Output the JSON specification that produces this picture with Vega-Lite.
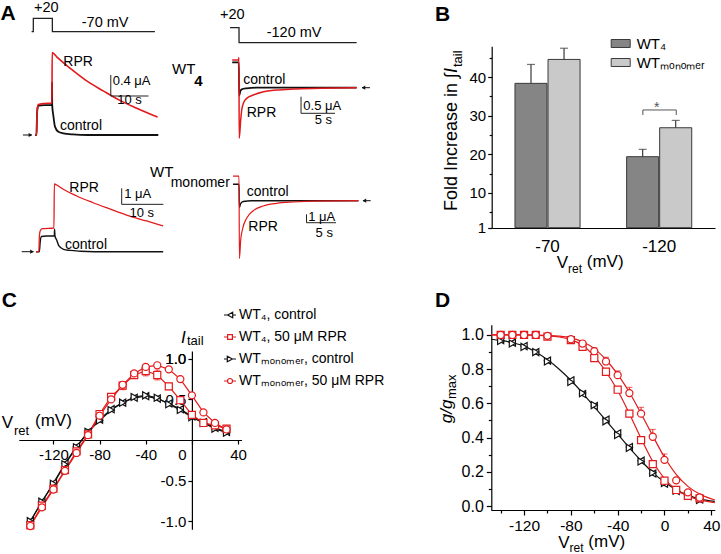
{
"$schema":"https://vega.github.io/schema/vega-lite/v6.json",
"width":721,"height":554,"autosize":{"type":"none"},"padding":0,"background":"white",
"config":{"font":"Liberation Sans","view":{"stroke":null},
"axis":{"domainColor":"#000","tickColor":"#000","labelColor":"#000","domainWidth":1.2,"tickWidth":1.2,"labelFont":"Liberation Sans","grid":false,"labelOverlap":false,"labelBound":false,"labelFlush":false},
"text":{"font":"Liberation Sans","color":"#000"},
"legend":{"labelFont":"Liberation Sans","labelColor":"#000"}},
"datasets":{
"a":[
{"p":"A1","s":"control","t":0,"i":0},{"p":"A1","s":"control","t":0.4,"i":0},{"p":"A1","s":"control","t":0.5,"i":0.3},{"p":"A1","s":"control","t":0.65,"i":0.5},{"p":"A1","s":"control","t":0.9,"i":0.56},{"p":"A1","s":"control","t":2.5,"i":0.57},{"p":"A1","s":"control","t":4.5,"i":0.57},{"p":"A1","s":"control","t":4.52,"i":1.0},{"p":"A1","s":"control","t":4.56,"i":0.57},{"p":"A1","s":"control","t":4.9,"i":0.35},{"p":"A1","s":"control","t":5.3,"i":0.16},{"p":"A1","s":"control","t":6.2,"i":0.06},{"p":"A1","s":"control","t":7.5,"i":0.03},{"p":"A1","s":"control","t":10,"i":0.01},{"p":"A1","s":"control","t":14,"i":0},{"p":"A1","s":"control","t":32.7,"i":0},
{"p":"A1","s":"RPR","t":0,"i":0},{"p":"A1","s":"RPR","t":0.4,"i":0},{"p":"A1","s":"RPR","t":0.5,"i":0.3},{"p":"A1","s":"RPR","t":0.65,"i":0.52},{"p":"A1","s":"RPR","t":0.9,"i":0.58},{"p":"A1","s":"RPR","t":2.5,"i":0.6},{"p":"A1","s":"RPR","t":4.5,"i":0.61},{"p":"A1","s":"RPR","t":4.55,"i":1.57},{"p":"A1","s":"RPR","t":5.75,"i":1.49},{"p":"A1","s":"RPR","t":7.5,"i":1.38},{"p":"A1","s":"RPR","t":10.2,"i":1.22},{"p":"A1","s":"RPR","t":13.7,"i":1.03},{"p":"A1","s":"RPR","t":18.1,"i":0.84},{"p":"A1","s":"RPR","t":22.5,"i":0.66},{"p":"A1","s":"RPR","t":27,"i":0.51},{"p":"A1","s":"RPR","t":32.5,"i":0.34},
{"p":"A2","s":"control","t":-1,"i":0.76},{"p":"A2","s":"control","t":-0.03,"i":0.76},{"p":"A2","s":"control","t":0.02,"i":-0.24},{"p":"A2","s":"control","t":0.2,"i":-0.1},{"p":"A2","s":"control","t":0.4,"i":-0.05},{"p":"A2","s":"control","t":1.1,"i":-0.02},{"p":"A2","s":"control","t":2.5,"i":0},{"p":"A2","s":"control","t":17.3,"i":0},
{"p":"A2","s":"RPR","t":-1,"i":0.83},{"p":"A2","s":"RPR","t":-0.05,"i":0.83},{"p":"A2","s":"RPR","t":-0.01,"i":0.91},{"p":"A2","s":"RPR","t":0.03,"i":-1.52},{"p":"A2","s":"RPR","t":0.25,"i":-0.97},{"p":"A2","s":"RPR","t":0.4,"i":-0.67},{"p":"A2","s":"RPR","t":0.64,"i":-0.47},{"p":"A2","s":"RPR","t":1.13,"i":-0.32},{"p":"A2","s":"RPR","t":2.1,"i":-0.22},{"p":"A2","s":"RPR","t":3.6,"i":-0.12},{"p":"A2","s":"RPR","t":5.5,"i":-0.07},{"p":"A2","s":"RPR","t":8,"i":-0.04},{"p":"A2","s":"RPR","t":11.9,"i":-0.02},{"p":"A2","s":"RPR","t":17.3,"i":0},
{"p":"A3","s":"control","t":0,"i":0},{"p":"A3","s":"control","t":0.8,"i":0},{"p":"A3","s":"control","t":1.0,"i":0.6},{"p":"A3","s":"control","t":1.3,"i":0.95},{"p":"A3","s":"control","t":2.5,"i":0.98},{"p":"A3","s":"control","t":4.4,"i":0.98},{"p":"A3","s":"control","t":4.45,"i":1.4},{"p":"A3","s":"control","t":4.55,"i":0.98},{"p":"A3","s":"control","t":4.96,"i":0.73},{"p":"A3","s":"control","t":5.5,"i":0.36},{"p":"A3","s":"control","t":6.6,"i":0.15},{"p":"A3","s":"control","t":8.2,"i":0.08},{"p":"A3","s":"control","t":10.6,"i":0.03},{"p":"A3","s":"control","t":14,"i":0},{"p":"A3","s":"control","t":30.5,"i":0},
{"p":"A3","s":"RPR","t":0,"i":0},{"p":"A3","s":"RPR","t":0.7,"i":0},{"p":"A3","s":"RPR","t":0.8,"i":0.9},{"p":"A3","s":"RPR","t":1.0,"i":1.3},{"p":"A3","s":"RPR","t":1.5,"i":1.44},{"p":"A3","s":"RPR","t":4.3,"i":1.48},{"p":"A3","s":"RPR","t":4.4,"i":4.23},{"p":"A3","s":"RPR","t":4.96,"i":4.17},{"p":"A3","s":"RPR","t":6.55,"i":3.9},{"p":"A3","s":"RPR","t":9.76,"i":3.48},{"p":"A3","s":"RPR","t":13.7,"i":3.06},{"p":"A3","s":"RPR","t":17.7,"i":2.67},{"p":"A3","s":"RPR","t":21.7,"i":2.29},{"p":"A3","s":"RPR","t":26.5,"i":1.92},{"p":"A3","s":"RPR","t":30.5,"i":1.61},
{"p":"A4","s":"control","t":-1.07,"i":1.93},{"p":"A4","s":"control","t":-0.05,"i":1.93},{"p":"A4","s":"control","t":0.02,"i":-0.8},{"p":"A4","s":"control","t":0.2,"i":-0.4},{"p":"A4","s":"control","t":0.5,"i":-0.15},{"p":"A4","s":"control","t":1,"i":-0.06},{"p":"A4","s":"control","t":2,"i":-0.01},{"p":"A4","s":"control","t":3.5,"i":0},{"p":"A4","s":"control","t":20.2,"i":0},
{"p":"A4","s":"RPR","t":-1.07,"i":2.9},{"p":"A4","s":"RPR","t":-0.05,"i":2.9},{"p":"A4","s":"RPR","t":0.02,"i":-6.8},{"p":"A4","s":"RPR","t":0.24,"i":-4.6},{"p":"A4","s":"RPR","t":0.58,"i":-3.25},{"p":"A4","s":"RPR","t":1.24,"i":-2.07},{"p":"A4","s":"RPR","t":2.36,"i":-1.18},{"p":"A4","s":"RPR","t":4.05,"i":-0.62},{"p":"A4","s":"RPR","t":6.3,"i":-0.31},{"p":"A4","s":"RPR","t":9.15,"i":-0.15},{"p":"A4","s":"RPR","t":13.1,"i":-0.04},{"p":"A4","s":"RPR","t":20.2,"i":0},
{"p":"A1","k":"LET","t":-9.15,"i":2.314,"label":"A"},
{"p":"A1","k":"L","t":7.5,"i":1.396,"label":"RPR"},
{"p":"A1","k":"L","t":6.63,"i":0.171,"label":"control"},
{"p":"A1","k":"S","t":20.6,"i":1.029,"label":"0.4 μA"},
{"p":"A1","k":"SC","t":25.07,"i":0.667,"label":"10 s"},
{"p":"A2","k":"W","t":-9.85,"i":0.571,"label":"WT"},
{"p":"A2","k":"WB","t":-6.57,"i":0.201,"label":"4"},
{"p":"A2","k":"L","t":0.63,"i":0.231,"label":"control"},
{"p":"A2","k":"L","t":1.13,"i":-0.769,"label":"RPR"},
{"p":"A2","k":"S","t":9.46,"i":-0.55,"label":"0.5 μA"},
{"p":"A2","k":"SC","t":12.4,"i":-0.97,"label":"5 s"},
{"p":"A3","k":"L","t":7.99,"i":3.96,"label":"RPR"},
{"p":"A3","k":"L","t":6.95,"i":0.42,"label":"control"},
{"p":"A3","k":"S","t":21.17,"i":3.61,"label":"1 μA"},
{"p":"A3","k":"SC","t":25.35,"i":2.44,"label":"10 s"},
{"p":"A4","k":"W","t":-15.14,"i":3.41,"label":"WT"},
{"p":"A4","k":"L","t":-11.63,"i":2.05,"label":"monomer"},
{"p":"A4","k":"L","t":1.25,"i":1.06,"label":"control"},
{"p":"A4","k":"L","t":1.53,"i":-3.06,"label":"RPR"},
{"p":"A4","k":"S","t":11.69,"i":-1.88,"label":"1 μA"},
{"p":"A4","k":"SC","t":14.4,"i":-3.76,"label":"5 s"},
{"p":"A1","k":"bar","t":20.1,"t2":20.1,"i":0.743,"i2":1.143},{"p":"A1","k":"bar","t":20.1,"t2":30.1,"i":0.743,"i2":0.743},
{"p":"A2","k":"bar","t":9.12,"t2":9.12,"i":-0.769,"i2":-0.27},{"p":"A2","k":"bar","t":9.12,"t2":14.12,"i":-0.769,"i2":-0.769},
{"p":"A3","k":"bar","t":20.55,"t2":20.55,"i":2.96,"i2":3.96},{"p":"A3","k":"bar","t":20.55,"t2":30.55,"i":2.96,"i2":2.96},
{"p":"A4","k":"bar","t":11.39,"t2":11.39,"i":-2.59,"i2":-1.6},{"p":"A4","k":"bar","t":11.39,"t2":16.39,"i":-2.59,"i2":-2.59},
{"p":"A1","k":"arrow","t":-3.2,"t2":-0.9,"th":-1.2,"i":0,"d":"r"},
{"p":"A2","k":"arrow","t":19.26,"t2":18.1,"th":18.3,"i":0,"d":"l"},
{"p":"A3","k":"arrow","t":-3.43,"t2":-0.65,"th":-0.95,"i":0,"d":"r"},
{"p":"A4","k":"arrow","t":22.27,"t2":20.97,"th":21.2,"i":0,"d":"l"}
],
"apr":[
{"p":"A1","k":"line","t":-0.9,"v":-70},{"p":"A1","k":"line","t":-0.45,"v":-70},{"p":"A1","k":"line","t":-0.44,"v":20},{"p":"A1","k":"line","t":4.6,"v":20},{"p":"A1","k":"line","t":4.61,"v":-70},{"p":"A1","k":"line","t":31.8,"v":-70},
{"p":"A1","k":"txt","t":-0.27,"v":87.2,"label":"+20"},{"p":"A1","k":"txt","t":12.4,"v":-9.55,"label":"-70 mV"},
{"p":"A2","k":"line","t":-1.32,"v":20},{"p":"A2","k":"line","t":0,"v":20},{"p":"A2","k":"line","t":0.01,"v":-120},{"p":"A2","k":"line","t":17.3,"v":-120},
{"p":"A2","k":"txt","t":-2.79,"v":133.9,"label":"+20"},{"p":"A2","k":"txt","t":4.07,"v":-32.3,"label":"-120 mV"}
],
"b":[
{"V":"-70","g":"WT4","mean":38.4,"hi":43.3},{"V":"-70","g":"WTmonomer","mean":44.6,"hi":47.5},
{"V":"-120","g":"WT4","mean":19.4,"hi":21.3},{"V":"-120","g":"WTmonomer","mean":26.9,"hi":28.8}
],
"bt":[
{"k":"br","bx":1.854,"bx2":2.153,"f":31.5,"f2":31.5},
{"k":"br","bx":1.854,"bx2":1.854,"f":31.5,"f2":30.2},
{"k":"br","bx":2.153,"bx2":2.153,"f":31.5,"f2":30.2},
{"k":"star","bx":1.978,"f":32.0,"label":"*"},
{"k":"LET","bx":-0.008,"f":56.1,"label":"B"},
{"k":"T","bx":1.082,"f":-8.2,"label":"V"},
{"k":"TS","bx":1.183,"f":-9.8,"label":"ret"},
{"k":"T","bx":1.351,"f":-8.0,"label":"(mV)"},
{"k":"R","bx":0.1444,"f":41.09,"label":"Fold Increase in ∫"},
{"k":"RI","bx":0.1444,"f":41.09,"label":"I"},
{"k":"RS","bx":0.1937,"f":42.64,"label":"tail"}
],
"c":[
{"k":"pt","s":"WT4c","v":-140,"i":-1.0},{"k":"pt","s":"WT4c","v":-130,"i":-0.76},{"k":"pt","s":"WT4c","v":-120,"i":-0.53},{"k":"pt","s":"WT4c","v":-110,"i":-0.29},{"k":"pt","s":"WT4c","v":-100,"i":-0.08},{"k":"pt","s":"WT4c","v":-90,"i":0.10},{"k":"pt","s":"WT4c","v":-80,"i":0.25},{"k":"pt","s":"WT4c","v":-70,"i":0.38},{"k":"pt","s":"WT4c","v":-60,"i":0.46},{"k":"pt","s":"WT4c","v":-50,"i":0.52},{"k":"pt","s":"WT4c","v":-40,"i":0.54},{"k":"pt","s":"WT4c","v":-30,"i":0.51},{"k":"pt","s":"WT4c","v":-20,"i":0.45},{"k":"pt","s":"WT4c","v":-10,"i":0.38},{"k":"pt","s":"WT4c","v":0,"i":0.29},{"k":"pt","s":"WT4c","v":10,"i":0.22},{"k":"pt","s":"WT4c","v":20,"i":0.15},{"k":"pt","s":"WT4c","v":30,"i":0.10},
{"k":"pt","s":"WTmc","v":-140,"i":-1.0},{"k":"pt","s":"WTmc","v":-130,"i":-0.76},{"k":"pt","s":"WTmc","v":-120,"i":-0.54},{"k":"pt","s":"WTmc","v":-110,"i":-0.30},{"k":"pt","s":"WTmc","v":-100,"i":-0.09},{"k":"pt","s":"WTmc","v":-90,"i":0.10},{"k":"pt","s":"WTmc","v":-80,"i":0.24},{"k":"pt","s":"WTmc","v":-70,"i":0.37},{"k":"pt","s":"WTmc","v":-60,"i":0.46},{"k":"pt","s":"WTmc","v":-50,"i":0.53},{"k":"pt","s":"WTmc","v":-40,"i":0.55},{"k":"pt","s":"WTmc","v":-30,"i":0.52},{"k":"pt","s":"WTmc","v":-20,"i":0.44},{"k":"pt","s":"WTmc","v":-10,"i":0.37},{"k":"pt","s":"WTmc","v":0,"i":0.28},{"k":"pt","s":"WTmc","v":10,"i":0.21},{"k":"pt","s":"WTmc","v":20,"i":0.14},{"k":"pt","s":"WTmc","v":30,"i":0.09},
{"k":"pt","s":"WT4r","v":-140,"i":-1.05},{"k":"pt","s":"WT4r","v":-130,"i":-0.81},{"k":"pt","s":"WT4r","v":-120,"i":-0.60},{"k":"pt","s":"WT4r","v":-110,"i":-0.37},{"k":"pt","s":"WT4r","v":-100,"i":-0.14},{"k":"pt","s":"WT4r","v":-90,"i":0.07},{"k":"pt","s":"WT4r","v":-80,"i":0.32},{"k":"pt","s":"WT4r","v":-70,"i":0.53},{"k":"pt","s":"WT4r","v":-60,"i":0.67},{"k":"pt","s":"WT4r","v":-50,"i":0.80},{"k":"pt","s":"WT4r","v":-40,"i":0.85},{"k":"pt","s":"WT4r","v":-30,"i":0.80},{"k":"pt","s":"WT4r","v":-20,"i":0.66},{"k":"pt","s":"WT4r","v":-10,"i":0.49},{"k":"pt","s":"WT4r","v":0,"i":0.31},{"k":"pt","s":"WT4r","v":10,"i":0.21},{"k":"pt","s":"WT4r","v":20,"i":0.18},{"k":"pt","s":"WT4r","v":30,"i":0.14},
{"k":"pt","s":"WTmr","v":-140,"i":-1.06},{"k":"pt","s":"WTmr","v":-130,"i":-0.83},{"k":"pt","s":"WTmr","v":-120,"i":-0.61},{"k":"pt","s":"WTmr","v":-110,"i":-0.38},{"k":"pt","s":"WTmr","v":-100,"i":-0.16},{"k":"pt","s":"WTmr","v":-90,"i":0.06},{"k":"pt","s":"WTmr","v":-80,"i":0.30},{"k":"pt","s":"WTmr","v":-70,"i":0.50},{"k":"pt","s":"WTmr","v":-60,"i":0.68},{"k":"pt","s":"WTmr","v":-50,"i":0.82},{"k":"pt","s":"WTmr","v":-40,"i":0.90},{"k":"pt","s":"WTmr","v":-30,"i":0.92},{"k":"pt","s":"WTmr","v":-20,"i":0.87},{"k":"pt","s":"WTmr","v":-10,"i":0.75},{"k":"pt","s":"WTmr","v":0,"i":0.55},{"k":"pt","s":"WTmr","v":10,"i":0.34},{"k":"pt","s":"WTmr","v":20,"i":0.21},{"k":"pt","s":"WTmr","v":30,"i":0.13},
{"k":"err","s":"WT4r","v":-70,"lo":0.49,"hi":0.57},{"k":"err","s":"WT4r","v":-60,"lo":0.62,"hi":0.72},{"k":"err","s":"WT4r","v":-50,"lo":0.76,"hi":0.84},{"k":"err","s":"WT4r","v":-40,"lo":0.79,"hi":0.91},{"k":"err","s":"WT4r","v":-30,"lo":0.74,"hi":0.86},{"k":"err","s":"WT4r","v":-20,"lo":0.62,"hi":0.70},{"k":"err","s":"WT4r","v":-10,"lo":0.46,"hi":0.52},
{"k":"err","s":"WTmr","v":-40,"lo":0.87,"hi":0.93},{"k":"err","s":"WTmr","v":-30,"lo":0.89,"hi":0.95},
{"k":"LET","v":-164.8,"i":1.718,"label":"C"},
{"k":"T","v":-164.8,"i":0.209,"label":"V"},
{"k":"TS","v":-154.2,"i":0.111,"label":"ret"},
{"k":"T","v":-135.96,"i":0.234,"label":"(mV)"},
{"k":"TI","v":-9.45,"i":1.262,"label":"I"},
{"k":"TS","v":-4.25,"i":1.219,"label":"tail"},
{"k":"YL","v":-5.1,"i":1.0,"label":"1.0"}
],
"cleg":[{"s":"WT₄, control"}],
"d":[
{"k":"pt","s":"WT4c","v":-140,"g":0.97},{"k":"pt","s":"WT4c","v":-130,"g":0.955},{"k":"pt","s":"WT4c","v":-120,"g":0.935},{"k":"pt","s":"WT4c","v":-110,"g":0.9},{"k":"pt","s":"WT4c","v":-100,"g":0.85},{"k":"pt","s":"WT4c","v":-80,"g":0.735},{"k":"pt","s":"WT4c","v":-70,"g":0.655},{"k":"pt","s":"WT4c","v":-60,"g":0.585},{"k":"pt","s":"WT4c","v":-50,"g":0.505},{"k":"pt","s":"WT4c","v":-40,"g":0.425},{"k":"pt","s":"WT4c","v":-30,"g":0.345},{"k":"pt","s":"WT4c","v":-20,"g":0.265},{"k":"pt","s":"WT4c","v":-10,"g":0.19},{"k":"pt","s":"WT4c","v":0,"g":0.13},{"k":"pt","s":"WT4c","v":10,"g":0.088},{"k":"pt","s":"WT4c","v":20,"g":0.058},{"k":"pt","s":"WT4c","v":30,"g":0.038},
{"k":"pt","s":"WTmc","v":-140,"g":0.965},{"k":"pt","s":"WTmc","v":-130,"g":0.95},{"k":"pt","s":"WTmc","v":-120,"g":0.93},{"k":"pt","s":"WTmc","v":-110,"g":0.9},{"k":"pt","s":"WTmc","v":-100,"g":0.845},{"k":"pt","s":"WTmc","v":-80,"g":0.725},{"k":"pt","s":"WTmc","v":-70,"g":0.66},{"k":"pt","s":"WTmc","v":-60,"g":0.59},{"k":"pt","s":"WTmc","v":-50,"g":0.495},{"k":"pt","s":"WTmc","v":-40,"g":0.415},{"k":"pt","s":"WTmc","v":-30,"g":0.34},{"k":"pt","s":"WTmc","v":-20,"g":0.26},{"k":"pt","s":"WTmc","v":-10,"g":0.195},{"k":"pt","s":"WTmc","v":0,"g":0.135},{"k":"pt","s":"WTmc","v":10,"g":0.09},{"k":"pt","s":"WTmc","v":20,"g":0.06},{"k":"pt","s":"WTmc","v":30,"g":0.035},
{"k":"pt","s":"WT4r","v":-140,"g":1.0},{"k":"pt","s":"WT4r","v":-130,"g":1.0},{"k":"pt","s":"WT4r","v":-120,"g":1.0},{"k":"pt","s":"WT4r","v":-110,"g":1.0},{"k":"pt","s":"WT4r","v":-100,"g":0.99},{"k":"pt","s":"WT4r","v":-80,"g":0.97},{"k":"pt","s":"WT4r","v":-70,"g":0.93},{"k":"pt","s":"WT4r","v":-60,"g":0.865},{"k":"pt","s":"WT4r","v":-50,"g":0.785},{"k":"pt","s":"WT4r","v":-40,"g":0.68},{"k":"pt","s":"WT4r","v":-30,"g":0.54},{"k":"pt","s":"WT4r","v":-20,"g":0.385},{"k":"pt","s":"WT4r","v":-10,"g":0.245},{"k":"pt","s":"WT4r","v":0,"g":0.148},{"k":"pt","s":"WT4r","v":10,"g":0.094},{"k":"pt","s":"WT4r","v":20,"g":0.06},{"k":"pt","s":"WT4r","v":30,"g":0.045},
{"k":"pt","s":"WTmr","v":-140,"g":1.0},{"k":"pt","s":"WTmr","v":-130,"g":1.0},{"k":"pt","s":"WTmr","v":-120,"g":1.0},{"k":"pt","s":"WTmr","v":-110,"g":1.0},{"k":"pt","s":"WTmr","v":-100,"g":0.995},{"k":"pt","s":"WTmr","v":-80,"g":0.975},{"k":"pt","s":"WTmr","v":-70,"g":0.95},{"k":"pt","s":"WTmr","v":-60,"g":0.905},{"k":"pt","s":"WTmr","v":-50,"g":0.845},{"k":"pt","s":"WTmr","v":-40,"g":0.765},{"k":"pt","s":"WTmr","v":-30,"g":0.66},{"k":"pt","s":"WTmr","v":-20,"g":0.54},{"k":"pt","s":"WTmr","v":-10,"g":0.405},{"k":"pt","s":"WTmr","v":0,"g":0.27},{"k":"pt","s":"WTmr","v":10,"g":0.15},{"k":"pt","s":"WTmr","v":20,"g":0.08},{"k":"pt","s":"WTmr","v":30,"g":0.05},
{"k":"fit","s":"WT4c","v":-148,"g":0.975},{"k":"fit","s":"WT4c","v":-140,"g":0.968},{"k":"fit","s":"WT4c","v":-130,"g":0.955},{"k":"fit","s":"WT4c","v":-120,"g":0.935},{"k":"fit","s":"WT4c","v":-110,"g":0.9},{"k":"fit","s":"WT4c","v":-100,"g":0.855},{"k":"fit","s":"WT4c","v":-90,"g":0.8},{"k":"fit","s":"WT4c","v":-80,"g":0.735},{"k":"fit","s":"WT4c","v":-70,"g":0.66},{"k":"fit","s":"WT4c","v":-60,"g":0.58},{"k":"fit","s":"WT4c","v":-50,"g":0.5},{"k":"fit","s":"WT4c","v":-40,"g":0.42},{"k":"fit","s":"WT4c","v":-30,"g":0.34},{"k":"fit","s":"WT4c","v":-20,"g":0.265},{"k":"fit","s":"WT4c","v":-10,"g":0.195},{"k":"fit","s":"WT4c","v":0,"g":0.14},{"k":"fit","s":"WT4c","v":10,"g":0.095},{"k":"fit","s":"WT4c","v":20,"g":0.063},{"k":"fit","s":"WT4c","v":30,"g":0.042},{"k":"fit","s":"WT4c","v":43,"g":0.027},
{"k":"fit","s":"WT4r","v":-148,"g":1.0},{"k":"fit","s":"WT4r","v":-120,"g":1.0},{"k":"fit","s":"WT4r","v":-110,"g":0.998},{"k":"fit","s":"WT4r","v":-100,"g":0.995},{"k":"fit","s":"WT4r","v":-90,"g":0.988},{"k":"fit","s":"WT4r","v":-80,"g":0.972},{"k":"fit","s":"WT4r","v":-70,"g":0.94},{"k":"fit","s":"WT4r","v":-60,"g":0.875},{"k":"fit","s":"WT4r","v":-50,"g":0.785},{"k":"fit","s":"WT4r","v":-40,"g":0.675},{"k":"fit","s":"WT4r","v":-30,"g":0.54},{"k":"fit","s":"WT4r","v":-20,"g":0.395},{"k":"fit","s":"WT4r","v":-10,"g":0.26},{"k":"fit","s":"WT4r","v":0,"g":0.16},{"k":"fit","s":"WT4r","v":10,"g":0.095},{"k":"fit","s":"WT4r","v":20,"g":0.058},{"k":"fit","s":"WT4r","v":30,"g":0.036},{"k":"fit","s":"WT4r","v":43,"g":0.02},
{"k":"fit","s":"WTmr","v":-148,"g":1.0},{"k":"fit","s":"WTmr","v":-120,"g":1.0},{"k":"fit","s":"WTmr","v":-110,"g":0.999},{"k":"fit","s":"WTmr","v":-100,"g":0.997},{"k":"fit","s":"WTmr","v":-90,"g":0.993},{"k":"fit","s":"WTmr","v":-80,"g":0.983},{"k":"fit","s":"WTmr","v":-70,"g":0.96},{"k":"fit","s":"WTmr","v":-60,"g":0.92},{"k":"fit","s":"WTmr","v":-50,"g":0.855},{"k":"fit","s":"WTmr","v":-40,"g":0.77},{"k":"fit","s":"WTmr","v":-30,"g":0.665},{"k":"fit","s":"WTmr","v":-20,"g":0.54},{"k":"fit","s":"WTmr","v":-10,"g":0.41},{"k":"fit","s":"WTmr","v":0,"g":0.285},{"k":"fit","s":"WTmr","v":10,"g":0.185},{"k":"fit","s":"WTmr","v":20,"g":0.115},{"k":"fit","s":"WTmr","v":30,"g":0.07},{"k":"fit","s":"WTmr","v":43,"g":0.035},
{"k":"err","s":"WTmr","v":-60,"g":0.905,"hi":0.925},{"k":"err","s":"WTmr","v":-50,"g":0.845,"hi":0.87},{"k":"err","s":"WTmr","v":-40,"g":0.765,"hi":0.79},{"k":"err","s":"WTmr","v":-30,"g":0.66,"hi":0.694},{"k":"err","s":"WTmr","v":-20,"g":0.54,"hi":0.577},{"k":"err","s":"WTmr","v":-10,"g":0.405,"hi":0.448},{"k":"err","s":"WTmr","v":0,"g":0.27,"hi":0.304},
{"k":"LET","v":-196.2,"g":1.196,"label":"D"},
{"k":"T","v":-90.8,"g":-0.216,"label":"V"},
{"k":"TS","v":-81.1,"g":-0.245,"label":"ret"},
{"k":"T","v":-65.1,"g":-0.213,"label":"(mV)"},
{"k":"RI","v":-186.2,"g":0.4836,"label":"g/g"},
{"k":"RS","v":-181.9,"g":0.6257,"label":"max"}
]
},
"resolve":{"scale":{"x":"independent","y":"independent","xOffset":"independent","color":"independent","fill":"independent","stroke":"independent","shape":"independent"},"axis":{"x":"independent","y":"independent"},"legend":{"color":"independent","fill":"independent","stroke":"independent","shape":"independent"}},
"layer":[
{"data":{"name":"a"},"transform":[{"filter":"datum.p=='A1'"}],
"encoding":{"x":{"field":"t","type":"quantitative","scale":{"domain":[0,32.7],"range":[35,158.3],"nice":false,"zero":false},"axis":null},
"y":{"field":"i","type":"quantitative","scale":{"domain":[0,1.57],"range":[135,52.6],"nice":false,"zero":false},"axis":null}},
"layer":[
{"transform":[{"filter":"datum.s=='control'"}],"mark":{"type":"line","color":"#111","strokeWidth":1.8,"interpolate":"monotone"},"encoding":{}},
{"transform":[{"filter":"datum.s=='RPR'"}],"mark":{"type":"line","color":"#e31a1c","strokeWidth":1.6,"interpolate":"monotone"},"encoding":{}},
{"transform":[{"filter":"datum.k=='bar'"}],"mark":{"type":"rule","color":"#222","strokeWidth":1},"encoding":{"x2":{"field":"t2"},"y2":{"field":"i2"}}},
{"transform":[{"filter":"datum.k=='arrow'"}],"mark":{"type":"rule","color":"#111","strokeWidth":1},"encoding":{"x2":{"field":"t2"}}},
{"transform":[{"filter":"datum.k=='arrow'"}],"mark":{"type":"point","filled":true,"color":"#111","size":18,"opacity":1},"encoding":{"x":{"field":"th","type":"quantitative","scale":{"domain":[0,32.7],"range":[35,158.3],"nice":false,"zero":false},"axis":null},"shape":{"field":"d","type":"nominal","scale":{"domain":["r","l"],"range":["triangle-right","triangle-left"]},"legend":null}}},
{"transform":[{"filter":"datum.k=='L'"}],"mark":{"type":"text","align":"left","baseline":"middle","fontSize":14},"encoding":{"text":{"field":"label"}}},
{"transform":[{"filter":"datum.k=='S'"}],"mark":{"type":"text","align":"left","baseline":"middle","fontSize":13},"encoding":{"text":{"field":"label"}}},
{"transform":[{"filter":"datum.k=='SC'"}],"mark":{"type":"text","align":"center","baseline":"middle","fontSize":13},"encoding":{"text":{"field":"label"}}},
{"transform":[{"filter":"datum.k=='LET'"}],"mark":{"type":"text","align":"left","baseline":"middle","fontSize":21,"fontWeight":"bold"},"encoding":{"text":{"field":"label"}}}
]},
{"data":{"name":"a"},"transform":[{"filter":"datum.p=='A2'"}],
"encoding":{"x":{"field":"t","type":"quantitative","scale":{"domain":[0,17.3],"range":[239,356.64],"nice":false,"zero":false},"axis":null},
"y":{"field":"i","type":"quantitative","scale":{"domain":[-1.5,1],"range":[137.65,54.4],"nice":false,"zero":false},"axis":null}},
"layer":[
{"transform":[{"filter":"datum.s=='control'"}],"mark":{"type":"line","color":"#111","strokeWidth":1.8,"interpolate":"monotone"},"encoding":{}},
{"transform":[{"filter":"datum.s=='RPR'"}],"mark":{"type":"line","color":"#e31a1c","strokeWidth":1.5,"interpolate":"monotone"},"encoding":{}},
{"transform":[{"filter":"datum.k=='bar'"}],"mark":{"type":"rule","color":"#222","strokeWidth":1},"encoding":{"x2":{"field":"t2"},"y2":{"field":"i2"}}},
{"transform":[{"filter":"datum.k=='arrow'"}],"mark":{"type":"rule","color":"#111","strokeWidth":1},"encoding":{"x2":{"field":"t2"}}},
{"transform":[{"filter":"datum.k=='arrow'"}],"mark":{"type":"point","filled":true,"color":"#111","size":18,"opacity":1},"encoding":{"x":{"field":"th","type":"quantitative","scale":{"domain":[0,17.3],"range":[239,356.64],"nice":false,"zero":false},"axis":null},"shape":{"field":"d","type":"nominal","scale":{"domain":["r","l"],"range":["triangle-right","triangle-left"]},"legend":null}}},
{"transform":[{"filter":"datum.k=='L'"}],"mark":{"type":"text","align":"left","baseline":"middle","fontSize":14},"encoding":{"text":{"field":"label"}}},
{"transform":[{"filter":"datum.k=='S'"}],"mark":{"type":"text","align":"left","baseline":"middle","fontSize":13},"encoding":{"text":{"field":"label"}}},
{"transform":[{"filter":"datum.k=='SC'"}],"mark":{"type":"text","align":"center","baseline":"middle","fontSize":13},"encoding":{"text":{"field":"label"}}},
{"transform":[{"filter":"datum.k=='W'"}],"mark":{"type":"text","align":"left","baseline":"middle","fontSize":15},"encoding":{"text":{"field":"label"}}},
{"transform":[{"filter":"datum.k=='WB'"}],"mark":{"type":"text","align":"left","baseline":"middle","fontSize":15,"fontWeight":"bold"},"encoding":{"text":{"field":"label"}}}
]},
{"data":{"name":"a"},"transform":[{"filter":"datum.p=='A3'"}],
"encoding":{"x":{"field":"t","type":"quantitative","scale":{"domain":[0,30.5],"range":[36,163.19],"nice":false,"zero":false},"axis":null},
"y":{"field":"i","type":"quantitative","scale":{"domain":[0,4.23],"range":[251.7,184.02],"nice":false,"zero":false},"axis":null}},
"layer":[
{"transform":[{"filter":"datum.s=='control'"}],"mark":{"type":"line","color":"#111","strokeWidth":1.4,"interpolate":"monotone"},"encoding":{}},
{"transform":[{"filter":"datum.s=='RPR'"}],"mark":{"type":"line","color":"#e31a1c","strokeWidth":1.3,"interpolate":"monotone"},"encoding":{}},
{"transform":[{"filter":"datum.k=='bar'"}],"mark":{"type":"rule","color":"#222","strokeWidth":1},"encoding":{"x2":{"field":"t2"},"y2":{"field":"i2"}}},
{"transform":[{"filter":"datum.k=='arrow'"}],"mark":{"type":"rule","color":"#111","strokeWidth":1},"encoding":{"x2":{"field":"t2"}}},
{"transform":[{"filter":"datum.k=='arrow'"}],"mark":{"type":"point","filled":true,"color":"#111","size":18,"opacity":1},"encoding":{"x":{"field":"th","type":"quantitative","scale":{"domain":[0,30.5],"range":[36,163.19],"nice":false,"zero":false},"axis":null},"shape":{"field":"d","type":"nominal","scale":{"domain":["r","l"],"range":["triangle-right","triangle-left"]},"legend":null}}},
{"transform":[{"filter":"datum.k=='L'"}],"mark":{"type":"text","align":"left","baseline":"middle","fontSize":14},"encoding":{"text":{"field":"label"}}},
{"transform":[{"filter":"datum.k=='S'"}],"mark":{"type":"text","align":"left","baseline":"middle","fontSize":13},"encoding":{"text":{"field":"label"}}},
{"transform":[{"filter":"datum.k=='SC'"}],"mark":{"type":"text","align":"center","baseline":"middle","fontSize":13},"encoding":{"text":{"field":"label"}}}
]},
{"data":{"name":"a"},"transform":[{"filter":"datum.p=='A4'"}],
"encoding":{"x":{"field":"t","type":"quantitative","scale":{"domain":[0,20.2],"range":[239.3,358.48],"nice":false,"zero":false},"axis":null},
"y":{"field":"i","type":"quantitative","scale":{"domain":[-6.8,2.9],"range":[258.5,176.05],"nice":false,"zero":false},"axis":null}},
"layer":[
{"transform":[{"filter":"datum.s=='control'"}],"mark":{"type":"line","color":"#111","strokeWidth":1.4,"interpolate":"monotone"},"encoding":{}},
{"transform":[{"filter":"datum.s=='RPR'"}],"mark":{"type":"line","color":"#e31a1c","strokeWidth":1.2,"interpolate":"monotone"},"encoding":{}},
{"transform":[{"filter":"datum.k=='bar'"}],"mark":{"type":"rule","color":"#222","strokeWidth":1},"encoding":{"x2":{"field":"t2"},"y2":{"field":"i2"}}},
{"transform":[{"filter":"datum.k=='arrow'"}],"mark":{"type":"rule","color":"#111","strokeWidth":1},"encoding":{"x2":{"field":"t2"}}},
{"transform":[{"filter":"datum.k=='arrow'"}],"mark":{"type":"point","filled":true,"color":"#111","size":18,"opacity":1},"encoding":{"x":{"field":"th","type":"quantitative","scale":{"domain":[0,20.2],"range":[239.3,358.48],"nice":false,"zero":false},"axis":null},"shape":{"field":"d","type":"nominal","scale":{"domain":["r","l"],"range":["triangle-right","triangle-left"]},"legend":null}}},
{"transform":[{"filter":"datum.k=='L'"}],"mark":{"type":"text","align":"left","baseline":"middle","fontSize":14},"encoding":{"text":{"field":"label"}}},
{"transform":[{"filter":"datum.k=='S'"}],"mark":{"type":"text","align":"left","baseline":"middle","fontSize":13},"encoding":{"text":{"field":"label"}}},
{"transform":[{"filter":"datum.k=='SC'"}],"mark":{"type":"text","align":"center","baseline":"middle","fontSize":13},"encoding":{"text":{"field":"label"}}},
{"transform":[{"filter":"datum.k=='W'"}],"mark":{"type":"text","align":"left","baseline":"middle","fontSize":15},"encoding":{"text":{"field":"label"}}}
]},
{"data":{"name":"apr"},"transform":[{"filter":"datum.p=='A1'"}],
"encoding":{"x":{"field":"t","type":"quantitative","scale":{"domain":[0,32.7],"range":[35,158.3],"nice":false,"zero":false},"axis":null},
"y":{"field":"v","type":"quantitative","scale":{"domain":[-70,20],"range":[31.7,18.3],"nice":false,"zero":false},"axis":null}},
"layer":[
{"transform":[{"filter":"datum.k=='line'"}],"mark":{"type":"line","color":"#222","strokeWidth":1.3},"encoding":{}},
{"transform":[{"filter":"datum.k=='txt'"}],"mark":{"type":"text","align":"left","baseline":"middle","fontSize":14.5},"encoding":{"text":{"field":"label"}}}
]},
{"data":{"name":"apr"},"transform":[{"filter":"datum.p=='A2'"}],
"encoding":{"x":{"field":"t","type":"quantitative","scale":{"domain":[0,17.3],"range":[239,356.64],"nice":false,"zero":false},"axis":null},
"y":{"field":"v","type":"quantitative","scale":{"domain":[-120,20],"range":[42.7,27.7],"nice":false,"zero":false},"axis":null}},
"layer":[
{"transform":[{"filter":"datum.k=='line'"}],"mark":{"type":"line","color":"#222","strokeWidth":1.3},"encoding":{}},
{"transform":[{"filter":"datum.k=='txt'"}],"mark":{"type":"text","align":"left","baseline":"middle","fontSize":14.5},"encoding":{"text":{"field":"label"}}}
]},
{"data":{"name":"b"},
"encoding":{
"x":{"field":"V","type":"nominal","scale":{"type":"band","domain":["-70","-120"],"range":[491.7,715],"paddingInner":0.417,"paddingOuter":0.2085},"axis":{"orient":"bottom","offset":-326,"title":null,"ticks":false,"labelPadding":10,"labelFontSize":17,"labelAngle":0}},
"xOffset":{"field":"g","type":"nominal","scale":{"domain":["WT4","WTmonomer"],"paddingInner":0.03}},
"y":{"field":"mean","type":"quantitative","scale":{"domain":[1,48],"range":[227.7,46.3],"nice":false,"zero":false},"axis":{"orient":"left","offset":-491.7,"title":null,"values":[1,10,20,30,40],"tickSize":4,"labelPadding":2,"labelFontSize":15}}},
"layer":[
{"mark":{"type":"bar","stroke":"#3a3a3a","strokeWidth":1},"encoding":{"y2":{"datum":1},"fill":{"field":"g","type":"nominal","scale":{"domain":["WT4","WTmonomer"],"range":["#858585","#c9c9c9"]},"legend":{"orient":"none","legendX":610.7,"legendY":33.5,"title":null,"symbolType":"M-1,-0.42H1V0.42H-1Z","symbolSize":361,"symbolStrokeColor":"#3a3a3a","symbolStrokeWidth":1,"labelFontSize":15,"labelOffset":6,"rowPadding":1,"padding":0,"labelExpr":"datum.label == 'WT4' ? 'WT₄' : 'WTₘₒₙₒₘₑᵣ'"}}}},
{"mark":{"type":"rule","color":"#3a3a3a","strokeWidth":1.2},"encoding":{"y2":{"field":"hi"}}}
]},
{"data":{"name":"b"},
"mark":{"type":"tick","orient":"horizontal","size":8,"thickness":1.2,"color":"#3a3a3a"},
"encoding":{
"x":{"field":"V","type":"nominal","scale":{"type":"band","domain":["-70","-120"],"range":[491.7,715],"paddingInner":0.417,"paddingOuter":0.2085},"axis":null},
"xOffset":{"field":"g","type":"nominal","scale":{"domain":["WT4","WTmonomer"],"paddingInner":0.03}},
"y":{"field":"hi","type":"quantitative","scale":{"domain":[1,48],"range":[227.7,46.3],"nice":false,"zero":false},"axis":{"orient":"left","offset":-491.7,"title":null,"values":[5,15,25,35,45],"labels":false,"domain":false,"tickSize":2.5}}}},
{"data":{"name":"bt"},
"encoding":{"x":{"field":"bx","type":"quantitative","scale":{"domain":[0.5,2.5],"range":[491.7,715],"nice":false,"zero":false},"axis":null},
"y":{"field":"f","type":"quantitative","scale":{"domain":[1,48],"range":[227.7,46.3],"nice":false,"zero":false},"axis":null}},
"layer":[
{"transform":[{"filter":"datum.k=='br'"}],"mark":{"type":"rule","color":"#555","strokeWidth":1},"encoding":{"x2":{"field":"bx2"},"y2":{"field":"f2"}}},
{"transform":[{"filter":"datum.k=='star'"}],"mark":{"type":"text","align":"center","baseline":"middle","fontSize":14,"color":"#555"},"encoding":{"text":{"field":"label"}}},
{"transform":[{"filter":"datum.k=='LET'"}],"mark":{"type":"text","align":"left","baseline":"middle","fontSize":21,"fontWeight":"bold"},"encoding":{"text":{"field":"label"}}},
{"transform":[{"filter":"datum.k=='T'"}],"mark":{"type":"text","align":"left","baseline":"middle","fontSize":17},"encoding":{"text":{"field":"label"}}},
{"transform":[{"filter":"datum.k=='TS'"}],"mark":{"type":"text","align":"left","baseline":"middle","fontSize":12},"encoding":{"text":{"field":"label"}}},
{"transform":[{"filter":"datum.k=='R'"}],"mark":{"type":"text","align":"right","baseline":"middle","fontSize":18,"angle":270},"encoding":{"text":{"field":"label"}}},
{"transform":[{"filter":"datum.k=='RI'"}],"mark":{"type":"text","align":"left","baseline":"middle","fontSize":18,"angle":270,"fontStyle":"italic"},"encoding":{"text":{"field":"label"}}},
{"transform":[{"filter":"datum.k=='RS'"}],"mark":{"type":"text","align":"left","baseline":"middle","fontSize":13,"angle":270},"encoding":{"text":{"field":"label"}}}
]},
{"data":{"name":"c"},"transform":[{"filter":"datum.k=='err'"}],
"encoding":{
"x":{"field":"v","type":"quantitative","scale":{"domain":[-150,43],"range":[18.8,241.5],"nice":false,"zero":false},"axis":null}},
"layer":[
{"mark":{"type":"rule","color":"#e31a1c","strokeWidth":1},"encoding":{"y":{"field":"lo","type":"quantitative","scale":{"domain":[-1.1,1.095],"range":[529.3,351.1],"nice":false,"zero":false},"axis":null},"y2":{"field":"hi"}}},
{"mark":{"type":"tick","orient":"horizontal","size":6,"thickness":1,"color":"#e31a1c"},"encoding":{"y":{"field":"hi","type":"quantitative","scale":{"domain":[-1.1,1.095],"range":[529.3,351.1],"nice":false,"zero":false},"axis":null}}},
{"mark":{"type":"tick","orient":"horizontal","size":6,"thickness":1,"color":"#e31a1c"},"encoding":{"y":{"field":"lo","type":"quantitative","scale":{"domain":[-1.1,1.095],"range":[529.3,351.1],"nice":false,"zero":false},"axis":null}}}
]},
{"data":{"name":"c"},
"encoding":{
"x":{"field":"v","type":"quantitative","scale":{"domain":[-150,43],"range":[18.8,241.5],"nice":false,"zero":false},"axis":{"orient":"bottom","offset":-114,"title":null,"values":[-120,-80,-40,0,40],"labelExpr":"datum.value < 0 ? '-' + format(-datum.value, 'd') : format(datum.value, 'd')","tickSize":4,"labelPadding":3,"labelFontSize":15,"labelFlush":false,"labelOffset":{"condition":{"test":"datum.value == 0","value":-10},"value":0}}},
"y":{"field":"i","type":"quantitative","scale":{"domain":[-1.1,1.095],"range":[529.3,351.1],"nice":false,"zero":false},"axis":{"orient":"left","offset":-191.9,"title":null,"values":[-1,-0.5,0.5,1],"labelExpr":"datum.value < 0 ? '-' + format(-datum.value, '.1f') : format(datum.value, '.1f')","tickSize":4,"labelPadding":2,"labelFontSize":15,"labelBound":false,"labelFlush":false,"labelOverlap":false}}},
"layer":[
{"transform":[{"filter":"datum.k=='pt'"}],"mark":{"type":"line","strokeWidth":1.2},"encoding":{"color":{"field":"s","type":"nominal","scale":{"domain":["WT4c","WT4r","WTmc","WTmr"],"range":["#111","#e31a1c","#111","#e31a1c"]},"legend":null}}},
{"transform":[{"filter":"datum.k=='pt'"}],"mark":{"type":"point","filled":true,"fill":"white","strokeWidth":1.2,"size":50,"opacity":1},"encoding":{"stroke":{"field":"s","type":"nominal","scale":{"domain":["WT4c","WT4r","WTmc","WTmr"],"range":["#111","#e31a1c","#111","#e31a1c"]},"legend":null},"shape":{"field":"s","type":"nominal","scale":{"domain":["WT4c","WT4r","WTmc","WTmr"],"range":["triangle-left","square","triangle-right","circle"]},"legend":null}}},
{"transform":[{"filter":"datum.k=='LET'"}],"mark":{"type":"text","align":"left","baseline":"middle","fontSize":21,"fontWeight":"bold"},"encoding":{"text":{"field":"label"}}},
{"transform":[{"filter":"datum.k=='T'"}],"mark":{"type":"text","align":"left","baseline":"middle","fontSize":17},"encoding":{"text":{"field":"label"}}},
{"transform":[{"filter":"datum.k=='TS'"}],"mark":{"type":"text","align":"left","baseline":"middle","fontSize":13},"encoding":{"text":{"field":"label"}}},
{"transform":[{"filter":"datum.k=='TI'"}],"mark":{"type":"text","align":"left","baseline":"middle","fontSize":17,"fontStyle":"italic"},"encoding":{"text":{"field":"label"}}},
{"transform":[{"filter":"datum.k=='YL'"}],"mark":{"type":"text","align":"right","baseline":"middle","fontSize":15},"encoding":{"text":{"field":"label"}}}
]},
{"data":{"name":"cleg"},"transform":[{"filter":"false"}],
"mark":{"type":"point","filled":false},
"encoding":{
"shape":{"field":"s","type":"nominal","scale":{"domain":["WT₄, control","WT₄, 50 μM RPR","WTₘₒₙₒₘₑᵣ, control","WTₘₒₙₒₘₑᵣ, 50 μM RPR"],"range":["M-1,0H-0.4M0.45,0H1M-0.4,0L0.45,-0.45L0.45,0.45Z","M-1,0H-0.4M0.4,0H1M-0.4,-0.4H0.4V0.4H-0.4Z","M-1,0H-0.45M0.4,0H1M0.4,0L-0.45,-0.45L-0.45,0.45Z","M-1,0H-0.42M0.42,0H1M-0.42,0A0.42,0.42,0,1,1,0.42,0A0.42,0.42,0,1,1,-0.42,0Z"]},"legend":{"orient":"none","legendX":223,"legendY":308,"title":null,"symbolSize":144,"symbolStrokeWidth":1.2,"symbolOpacity":1,"labelFontSize":14,"labelOffset":2,"rowPadding":8,"padding":0}},
"stroke":{"field":"s","type":"nominal","scale":{"domain":["WT₄, control","WT₄, 50 μM RPR","WTₘₒₙₒₘₑᵣ, control","WTₘₒₙₒₘₑᵣ, 50 μM RPR"],"range":["#111","#e31a1c","#111","#e31a1c"]},"legend":{"orient":"none","legendX":223,"legendY":308,"title":null,"symbolSize":144,"symbolStrokeWidth":1.2,"symbolOpacity":1,"labelFontSize":14,"labelOffset":2,"rowPadding":8,"padding":0}}}},
{"data":{"name":"d"},"transform":[{"filter":"datum.k=='fit'"}],
"mark":{"type":"line","strokeWidth":1.2,"interpolate":"monotone"},
"encoding":{
"x":{"field":"v","type":"quantitative","scale":{"domain":[-148,43],"range":[491.3,714.8],"nice":false,"zero":false},"axis":{"orient":"bottom","offset":-44,"title":null,"values":[-140,-100,-60,-20,20],"labels":false,"domain":false,"tickSize":3}},
"y":{"field":"g","type":"quantitative","scale":{"domain":[-0.025,1.06],"range":[510.3,324.7],"nice":false,"zero":false},"axis":{"orient":"left","offset":-491.3,"title":null,"values":[0.1,0.3,0.5,0.7,0.9],"labels":false,"domain":false,"tickSize":3}},
"color":{"field":"s","type":"nominal","scale":{"domain":["WT4c","WT4r","WTmr"],"range":["#111","#e31a1c","#e31a1c"]},"legend":null}}},
{"data":{"name":"d"},"transform":[{"filter":"datum.k=='err'"}],
"encoding":{
"x":{"field":"v","type":"quantitative","scale":{"domain":[-148,43],"range":[491.3,714.8],"nice":false,"zero":false},"axis":null}},
"layer":[
{"mark":{"type":"rule","color":"#e31a1c","strokeWidth":1},"encoding":{"y":{"field":"g","type":"quantitative","scale":{"domain":[-0.025,1.06],"range":[510.3,324.7],"nice":false,"zero":false},"axis":null},"y2":{"field":"hi"}}},
{"mark":{"type":"tick","orient":"horizontal","size":6,"thickness":1,"color":"#e31a1c"},"encoding":{"y":{"field":"hi","type":"quantitative","scale":{"domain":[-0.025,1.06],"range":[510.3,324.7],"nice":false,"zero":false},"axis":null}}}
]},
{"data":{"name":"d"},
"encoding":{
"x":{"field":"v","type":"quantitative","scale":{"domain":[-148,43],"range":[491.3,714.8],"nice":false,"zero":false},"axis":{"orient":"bottom","offset":-44,"title":null,"values":[-120,-80,-40,0,40],"labelExpr":"datum.value < 0 ? '-' + format(-datum.value, 'd') : format(datum.value, 'd')","tickSize":5,"labelPadding":3,"labelFontSize":15.5,"labelFlush":false}},
"y":{"field":"g","type":"quantitative","scale":{"domain":[-0.025,1.06],"range":[510.3,324.7],"nice":false,"zero":false},"axis":{"orient":"left","offset":-491.3,"title":null,"values":[0,0.2,0.4,0.6,0.8,1],"format":".1f","tickSize":5,"labelPadding":3,"labelFontSize":16}}},
"layer":[
{"transform":[{"filter":"datum.k=='pt'"}],"mark":{"type":"point","filled":true,"fill":"white","strokeWidth":1.2,"size":50,"opacity":1},"encoding":{"stroke":{"field":"s","type":"nominal","scale":{"domain":["WT4c","WT4r","WTmc","WTmr"],"range":["#111","#e31a1c","#111","#e31a1c"]},"legend":null},"shape":{"field":"s","type":"nominal","scale":{"domain":["WT4c","WT4r","WTmc","WTmr"],"range":["triangle-left","square","triangle-right","circle"]},"legend":null}}},
{"transform":[{"filter":"datum.k=='LET'"}],"mark":{"type":"text","align":"left","baseline":"middle","fontSize":21,"fontWeight":"bold"},"encoding":{"text":{"field":"label"}}},
{"transform":[{"filter":"datum.k=='T'"}],"mark":{"type":"text","align":"left","baseline":"middle","fontSize":17},"encoding":{"text":{"field":"label"}}},
{"transform":[{"filter":"datum.k=='TS'"}],"mark":{"type":"text","align":"left","baseline":"middle","fontSize":12},"encoding":{"text":{"field":"label"}}},
{"transform":[{"filter":"datum.k=='RI'"}],"mark":{"type":"text","align":"left","baseline":"middle","fontSize":17,"angle":270,"fontStyle":"italic"},"encoding":{"text":{"field":"label"}}},
{"transform":[{"filter":"datum.k=='RS'"}],"mark":{"type":"text","align":"left","baseline":"middle","fontSize":13,"angle":270},"encoding":{"text":{"field":"label"}}}
]}
]
}
